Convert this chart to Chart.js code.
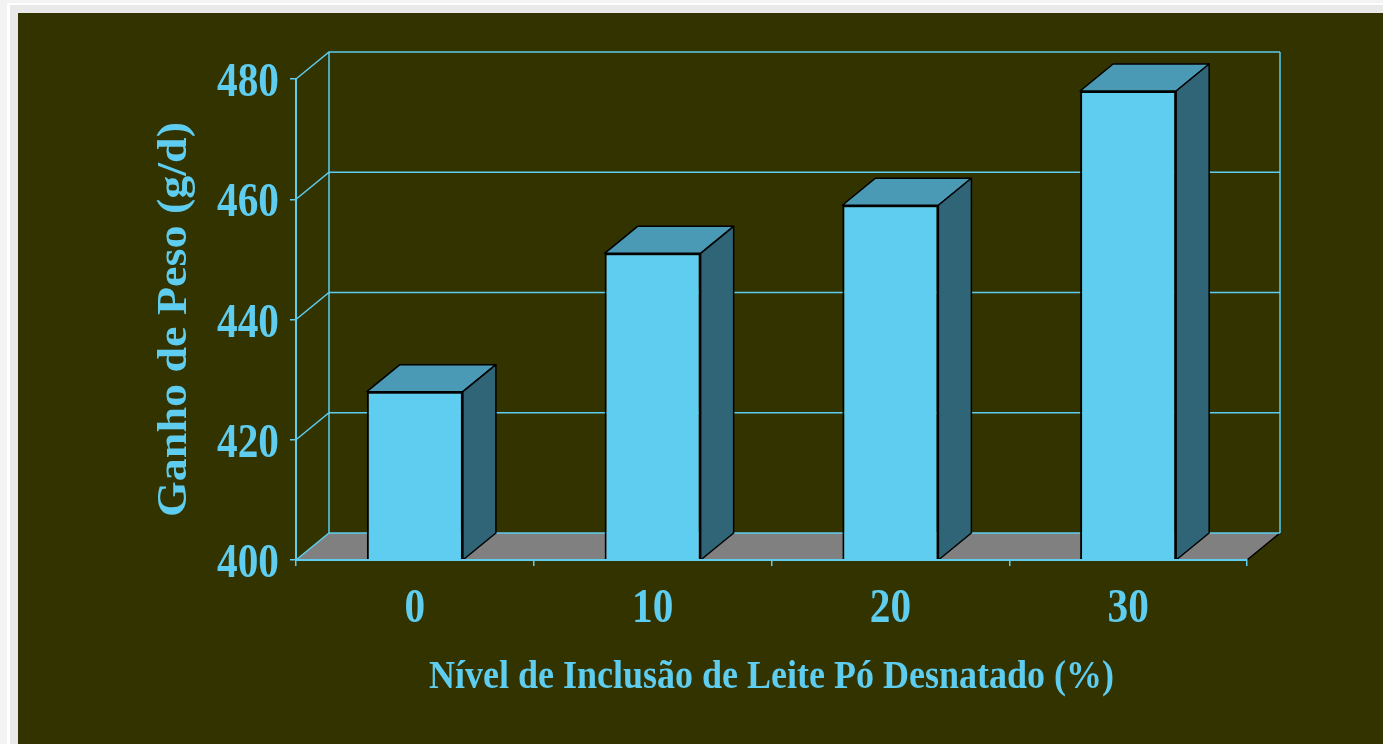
<!DOCTYPE html>
<html>
<head>
<meta charset="utf-8">
<script src="https://cdn.jsdelivr.net/npm/chart.js@4.4.1/dist/chart.umd.min.js"></script>
<style>
  html, body { margin: 0; padding: 0; overflow: hidden; background: #f3f3f3; }
  .moldura { position: absolute; left: 7px; top: 3px; width: 1400px; height: 760px; border-left: 3px solid #fff; border-top: 2px solid #fff; background: #e9e9e9; }
  #painel { position: absolute; left: 18px; top: 13px; width: 1365px; height: 731px; background: #333300; }
  #grafico { display: block; }
</style>
</head>
<body>
<div class="moldura"></div>
<div id="painel"><canvas id="grafico" width="1365" height="731"></canvas></div>
<script>
// dados do gráfico
const niveis = ['0', '10', '20', '30'];
const ganhoPeso = [428, 451, 459, 478];
const yMin = 400, yMax = 480, yPasso = 20;
const tituloX = 'Nível de Inclusão de Leite Pó Desnatado (%)';
const tituloY = 'Ganho de Peso (g/d)';

const azul = '#5ecdef';
const fonte = '"Liberation Serif", "Times New Roman", serif';
const prof = { dx: 33, dy: -27 }; // profundidade do efeito 3D

// escreve texto com largura ajustada (o original vem condensado)
function escreve(ctx, txt, x, y, ang, esc) {
  ctx.save();
  ctx.translate(x, y);
  if (ang) ctx.rotate(ang);
  ctx.scale(esc, 1);
  ctx.fillText(txt, 0, 0);
  ctx.restore();
}

// paredes, chão e faces 3D das barras
const relevo3d = {
  id: 'relevo3d',
  beforeDraw: function(chart) {
    const ctx = chart.ctx, a = chart.chartArea, y = chart.scales.y;
    ctx.save();
    // chão
    ctx.fillStyle = '#808080';
    ctx.beginPath();
    ctx.moveTo(a.left, a.bottom);
    ctx.lineTo(a.right, a.bottom);
    ctx.lineTo(a.right + prof.dx, a.bottom + prof.dy);
    ctx.lineTo(a.left + prof.dx, a.bottom + prof.dy);
    ctx.closePath();
    ctx.fill();
    ctx.strokeStyle = '#000';
    ctx.lineWidth = 1.5;
    ctx.beginPath();
    ctx.moveTo(a.right, a.bottom);
    ctx.lineTo(a.right + prof.dx, a.bottom + prof.dy);
    ctx.stroke();
    // linhas de grade nas paredes
    ctx.strokeStyle = azul;
    ctx.lineWidth = 1.5;
    ctx.beginPath();
    y.ticks.forEach(function(t) {
      const py = y.getPixelForValue(t.value);
      ctx.moveTo(a.left, py);
      ctx.lineTo(a.left + prof.dx, py + prof.dy);
      ctx.lineTo(a.right + prof.dx, py + prof.dy);
    });
    ctx.moveTo(a.left + prof.dx, a.top + prof.dy);
    ctx.lineTo(a.left + prof.dx, a.bottom + prof.dy);
    ctx.moveTo(a.right + prof.dx, a.top + prof.dy);
    ctx.lineTo(a.right + prof.dx, a.bottom + prof.dy);
    ctx.stroke();
    ctx.restore();
  },
  afterDatasetsDraw: function(chart) {
    const ctx = chart.ctx, a = chart.chartArea;
    const meta = chart.getDatasetMeta(0);
    ctx.save();
    ctx.lineWidth = 1.5;
    ctx.lineJoin = 'round';
    ctx.strokeStyle = '#000';
    meta.data.forEach(function(bar) {
      const p = bar.getProps(['x', 'y', 'base', 'width'], true);
      const x0 = p.x - p.width / 2, x1 = p.x + p.width / 2;
      const base = Math.min(p.base, a.bottom);
      // topo
      ctx.fillStyle = '#4a9ab5';
      ctx.beginPath();
      ctx.moveTo(x0, p.y);
      ctx.lineTo(x1, p.y);
      ctx.lineTo(x1 + prof.dx, p.y + prof.dy);
      ctx.lineTo(x0 + prof.dx, p.y + prof.dy);
      ctx.closePath();
      ctx.fill();
      ctx.stroke();
      // lateral
      ctx.fillStyle = '#2f6577';
      ctx.beginPath();
      ctx.moveTo(x1, p.y);
      ctx.lineTo(x1 + prof.dx, p.y + prof.dy);
      ctx.lineTo(x1 + prof.dx, base + prof.dy);
      ctx.lineTo(x1, base);
      ctx.closePath();
      ctx.fill();
      ctx.stroke();
    });
    // eixo x por cima das barras
    ctx.strokeStyle = azul;
    ctx.lineWidth = 2;
    ctx.beginPath();
    ctx.moveTo(a.left, a.bottom);
    ctx.lineTo(a.right, a.bottom);
    ctx.stroke();
    ctx.restore();
  },
  afterDraw: function(chart) {
    const ctx = chart.ctx, a = chart.chartArea;
    const x = chart.scales.x, y = chart.scales.y;
    ctx.save();
    ctx.fillStyle = azul;
    ctx.textBaseline = 'alphabetic';
    ctx.font = 'bold 48px ' + fonte;
    // rótulos do eixo y
    ctx.textAlign = 'right';
    y.ticks.forEach(function(t) {
      escreve(ctx, String(t.value), a.left - 17, y.getPixelForValue(t.value) + 17, 0, 0.86);
    });
    // rótulos do eixo x
    ctx.textAlign = 'center';
    chart.data.labels.forEach(function(lab, i) {
      escreve(ctx, lab, x.getPixelForValue(i), a.bottom + 62, 0, 0.86);
    });
    // títulos
    ctx.font = 'bold 40px ' + fonte;
    escreve(ctx, tituloX, (a.left + a.right) / 2, a.bottom + 128, 0, 0.9);
    ctx.font = 'bold 43px ' + fonte;
    escreve(ctx, tituloY, a.left - 110, (a.top + a.bottom) / 2, -Math.PI / 2, 1.07);
    ctx.restore();
  }
};

const ctx = document.getElementById('grafico').getContext('2d');
const grafico = new Chart(ctx, {
  type: 'bar',
  data: {
    labels: niveis,
    datasets: [{
      label: tituloY,
      data: ganhoPeso,
      backgroundColor: '#5ecdef',
      borderColor: '#000',
      borderWidth: 2,
      barPercentage: 0.404,
      categoryPercentage: 1
    }]
  },
  options: {
    responsive: false,
    animation: false,
    devicePixelRatio: 1,
    layout: { padding: { top: 66, right: 136, left: 0, bottom: 0 } },
    plugins: {
      legend: { display: false },
      tooltip: { enabled: false }
    },
    scales: {
      x: {
        grid: { display: true, drawOnChartArea: false, offset: true, color: azul, lineWidth: 1.5, tickLength: 6 },
        border: { display: true, color: azul, width: 2 },
        ticks: { display: false },
        afterFit: function(scale) { scale.height = 184; }
      },
      y: {
        min: yMin,
        max: yMax,
        grid: { display: true, drawOnChartArea: false, color: azul, lineWidth: 1.5, tickLength: 6 },
        border: { display: true, color: azul, width: 2 },
        ticks: { display: false, stepSize: yPasso },
        afterFit: function(scale) { scale.width = 278; }
      }
    }
  },
  plugins: [relevo3d]
});
</script>
</body>
</html>
